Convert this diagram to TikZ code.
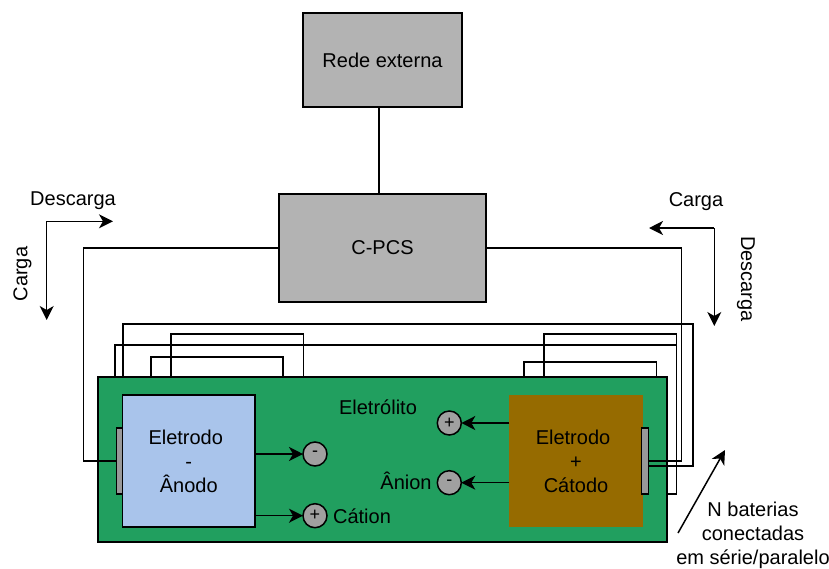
\documentclass[tikz,border=0pt]{standalone}
\usepackage{fontspec}
\setmainfont{Liberation Sans}
\usetikzlibrary{arrows.meta}
\definecolor{boxgray}{HTML}{B3B3B3}
\definecolor{batgreen}{HTML}{219F5F}
\definecolor{anodeblue}{HTML}{A9C4EB}
\definecolor{cathodebrown}{HTML}{966B00}
\definecolor{ioncolor}{HTML}{A0A0A0}
\definecolor{tabcolor}{HTML}{999999}
\tikzset{
  wire/.style={line width=1.5pt},
  flow/.style={line width=1.5pt,-{Stealth[length=14pt,width=14pt,inset=4pt]}},
  block/.style={draw,line width=1.5pt,outer sep=0pt,inner sep=0pt,align=center,font=\fontsize{20}{24}\selectfont},
  tabplate/.style={draw,fill=tabcolor,line width=1.2pt,outer sep=0pt,minimum width=6.5pt,minimum height=66pt},
  ion/.style={draw,circle,fill=ioncolor,line width=1.5pt,outer sep=0pt,inner sep=0pt,minimum size=24pt,font=\fontsize{18}{18}\selectfont},
  lbl/.style={inner sep=0pt,align=center,font=\fontsize{20}{24}\selectfont}
}
\begin{document}
\begin{tikzpicture}[x=1pt,y=-1pt]
  \useasboundingbox (0,0) rectangle (829,568);
  \node[block,fill=boxgray,minimum width=159pt,minimum height=94pt] (rede) at (382.5,60) {Rede externa};
  \node[block,fill=boxgray,minimum width=207pt,minimum height=108pt] (cpcs) at (382.5,248) {C-PCS};
  \node[block,fill=batgreen,minimum width=569pt,minimum height=165pt] (bat) at (382.5,459.5) {};
  \node[block,fill=anodeblue,minimum width=132.5pt,minimum height=132pt] (anodo) at (188.75,461) {Eletrodo\hspace*{6pt}\\-\\Ânodo};
  \node[block,draw=none,fill=cathodebrown,minimum width=133.5pt,minimum height=132pt] (catodo) at (576,461) {Eletrodo\hspace*{6pt}\\+\\Cátodo};
  \node[tabplate] (tabA) at (119.5,461) {};
  \node[tabplate] (tabC) at (645.2,461) {};
  \node[ion] (ionA) at (315,454) {-};
  \node[ion] (ionB) at (315,515.7) {+};
  \node[ion] (ionC) at (449.3,423) {+};
  \node[ion] (ionD) at (449.3,482.7) {-};
  % ligacoes principais
  \draw[wire] ([xshift=-3.5pt]rede.south) -- ([xshift=-3.5pt]cpcs.north);
  \draw[wire] (cpcs.west) -| (83.5,461) -- (tabA.west);
  \draw[wire] (cpcs.east) -| (681.7,461) -- (tabC.east);
  % ligacoes em serie/paralelo
  \draw[wire] ([xshift=25pt]bat.north west) |- (693,324) |- ([yshift=-5pt]tabC.east);
  \draw[wire] ([xshift=17pt]bat.north west) |- (676.7,345) |- ([yshift=48pt]bat.south east);
  \draw[wire] ([xshift=53pt]bat.north west) |- (283,357) -| ([xshift=185pt]bat.north west);
  \draw[wire] ([xshift=73pt]bat.north west) |- (303.3,334) -| ([xshift=205.3pt]bat.north west);
  \draw[wire] ([xshift=446pt]bat.north west) |- (676.7,334) -- (676.7,345);
  \draw[wire] ([xshift=426pt]bat.north west) |- (656.7,362) -| ([xshift=558.7pt]bat.north west);
  % ions
  \draw[flow] (anodo.east |- ionA) -- (ionA);
  \draw[flow] (anodo.east |- ionB) -- (ionB);
  \draw[flow] (catodo.west |- ionC) -- (ionC);
  \draw[flow] (catodo.west |- ionD) -- (ionD);
  % sentidos
  \coordinate (cornerL) at (46.7,221.3);
  \coordinate (cornerR) at (714.3,228);
  \coordinate (tipLa) at (113,221.3);
  \coordinate (tipLb) at (46.7,320);
  \coordinate (tipRa) at (649,228);
  \coordinate (tipRb) at (714.3,326);
  \coordinate (nbegin) at (678,533);
  \coordinate (nend) at (725,450);
  \draw[flow] (cornerL) -- (tipLa);
  \draw[flow] (cornerL) -- (tipLb);
  \draw[flow] (cornerR) -- (tipRa);
  \draw[flow] (cornerR) -- (tipRb);
  \draw[flow] (nbegin) -- (nend);
  \node[lbl] (descL) at (73,200.5) {Descarga};
  \node[lbl,rotate=90] (cargaL) at (22.5,274) {Carga};
  \node[lbl] (cargaR) at (696,201.5) {Carga};
  \node[lbl,rotate=-90] (descR) at (746,279) {Descarga};
  \node[lbl] (eletrolito) at (378,407) {Eletrólito};
  \node[lbl] (anion) at (406,480.5) {Ânion};
  \node[lbl] (cation) at (362,516) {Cátion};
  \node[lbl] (nbat) at (753,535) {N baterias\\conectadas\\em série/paralelo};
\end{tikzpicture}
\end{document}
